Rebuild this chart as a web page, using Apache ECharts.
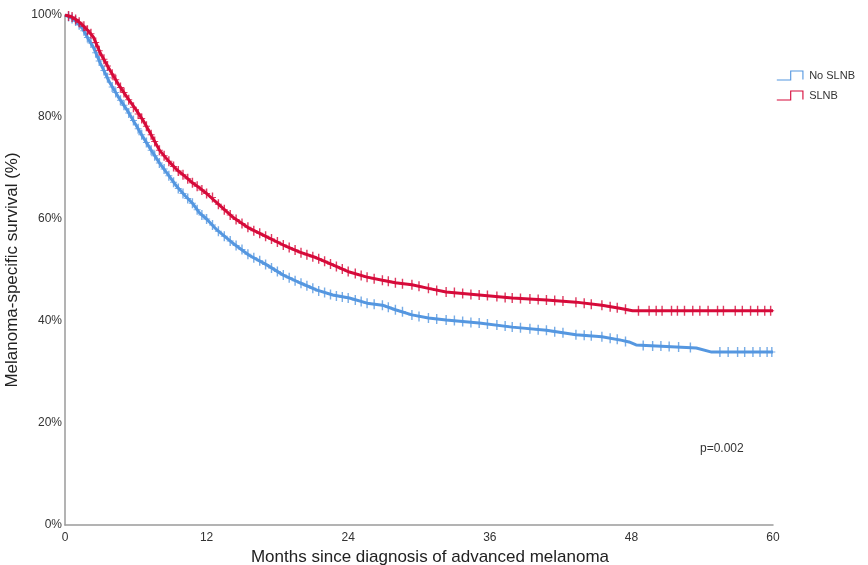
<!DOCTYPE html>
<html>
<head>
<meta charset="utf-8">
<script src="https://cdn.jsdelivr.net/npm/echarts@6/dist/echarts.min.js"></script>
<style>html,body{margin:0;padding:0;background:#fff}#c{width:868px;height:565px}</style>
</head>
<body>
<div id="c"></div>
<script>
const seriesNames = ['No SLNB', 'SLNB'];
const xTitle = 'Months since diagnosis of advanced melanoma';
const yTitle = 'Melanoma-specific survival (%)';
const pText = 'p=0.002';

const noSlnbCurve = [[0,100],[0.5,99.5],[1,98.6],[1.5,97.3],[2,95.2],[2.4,93.7],[3,90.5],[3.8,86.7],[4.5,84],[5.25,81.4],[6,78.5],[6.6,76.1],[7.3,73.5],[8,71],[8.8,68.5],[9.5,66.3],[10.2,64.5],[10.8,63.1],[11.4,61.2],[12,60],[12.9,57.8],[14.2,55.3],[15.6,52.9],[17.1,51],[18.5,49],[19.9,47.5],[21.3,46.1],[22.7,45.1],[24.1,44.5],[25.6,43.5],[26.9,43.1],[28,42.2],[29.4,41.2],[30.8,40.6],[32.3,40.2],[35.1,39.6],[37.9,38.8],[40.8,38.2],[43.3,37.3],[45.5,36.9],[47.2,36.2],[47.8,35.9],[48.4,35.3],[53.5,34.7],[54.8,33.9],[60,33.9]];

const slnbCurve = [[0,100],[0.5,99.7],[1,99],[1.5,98],[2,96.8],[2.4,95.7],[3,92.5],[3.8,89.2],[4.5,86.5],[5.25,83.9],[6,81.5],[6.6,79.4],[7.3,76.5],[8,73.5],[8.8,71.3],[9.5,69.6],[10.2,68.3],[10.8,67.1],[11.4,66.1],[12,65],[12.9,63.1],[14.2,60.4],[15.6,58.2],[17.1,56.5],[18.5,54.9],[19.9,53.5],[21.3,52.4],[22.7,51],[24.1,49.6],[25.6,48.6],[26.9,48],[28,47.5],[29.4,47.1],[30.8,46.4],[32.3,45.7],[35.1,45.1],[37.9,44.5],[40.8,44.1],[43.3,43.7],[45.5,43.1],[47,42.5],[48.1,42.0],[60,42.0]];

const noSlnbCensor = [[0.3,99.7],[0.6,99.3],[0.9,98.8],[1.2,98.1],[1.6,96.9],[1.9,95.6],[2.2,94.5],[2.6,92.6],[2.9,91.0],[3.3,89.1],[3.6,87.7],[4.0,85.9],[4.3,84.8],[4.7,83.3],[5.0,82.3],[5.4,80.8],[5.8,79.3],[6.2,77.7],[6.5,76.5],[6.9,75.0],[7.3,73.5],[7.6,72.4],[8.0,71.0],[8.4,69.8],[8.8,68.5],[9.2,67.2],[9.6,66.0],[10.0,65.0],[10.4,64.0],[10.8,63.1],[11.2,61.8],[11.6,60.8],[12.0,60.0],[12.5,58.8],[13,57.6],[13.5,56.6],[14,55.7],[14.5,54.8],[15,54.0],[15.5,53.1],[16,52.4],[16.5,51.8],[17,51.1],[17.5,50.4],[18,49.7],[18.5,49.0],[19,48.5],[19.5,47.9],[20,47.4],[20.5,46.9],[21,46.4],[21.5,45.9],[22,45.6],[22.5,45.2],[23,44.9],[23.5,44.7],[24,44.5],[24.6,44.1],[25.1,43.8],[25.6,43.5],[26.2,43.3],[26.9,43.1],[27.4,42.7],[28,42.2],[28.6,41.8],[29.4,41.2],[30.0,40.9],[30.8,40.6],[31.5,40.4],[32.3,40.2],[33,40.1],[33.7,39.9],[34.4,39.7],[35.1,39.6],[35.8,39.4],[36.6,39.2],[37.3,39.0],[37.9,38.8],[38.6,38.7],[39.4,38.5],[40.1,38.3],[40.8,38.2],[41.5,37.9],[42.2,37.7],[43.3,37.3],[44,37.2],[44.6,37.1],[45.5,36.9],[46.2,36.6],[46.8,36.4],[47.5,36.0],[49,35.2],[49.8,35.1],[50.5,35.1],[51.2,35.0],[52,34.9],[53,34.8],[55.5,33.9],[56.2,33.9],[57,33.9],[57.6,33.9],[58.3,33.9],[58.9,33.9],[59.5,33.9],[59.9,33.9]];

const slnbCensor = [[0.3,99.8],[0.6,99.6],[0.9,99.1],[1.2,98.6],[1.6,97.8],[1.9,97.0],[2.2,96.3],[2.6,94.6],[2.9,93.0],[3.3,91.3],[3.6,90.0],[4.0,88.4],[4.3,87.3],[4.7,85.8],[5.0,84.8],[5.4,83.4],[5.8,81.9],[6.2,80.6],[6.5,79.7],[6.9,78.2],[7.3,76.5],[7.6,75.2],[8.0,73.5],[8.4,72.4],[8.8,71.3],[9.2,70.3],[9.6,69.4],[10.0,68.7],[10.4,67.9],[10.8,67.1],[11.2,66.4],[11.6,65.7],[12.0,65.0],[12.5,64.2],[13,62.9],[13.5,61.8],[14,60.8],[14.5,59.9],[15,59.1],[15.5,58.4],[16,57.7],[16.5,57.2],[17,56.6],[17.5,56.1],[18,55.5],[18.5,54.9],[19,54.4],[19.5,53.9],[20,53.4],[20.5,53.0],[21,52.6],[21.5,52.2],[22,51.7],[22.5,51.2],[23,50.7],[23.5,50.2],[24,49.7],[24.6,49.3],[25.1,48.9],[25.6,48.6],[26.2,48.3],[26.9,48.0],[27.4,47.8],[28,47.5],[28.6,47.3],[29.4,47.1],[30,46.8],[30.8,46.4],[31.5,46.0],[32.3,45.7],[33,45.6],[33.7,45.4],[34.4,45.2],[35.1,45.1],[35.8,45.0],[36.6,44.8],[37.3,44.6],[37.9,44.5],[38.6,44.4],[39.4,44.3],[40.1,44.2],[40.8,44.1],[41.5,44.0],[42.2,43.9],[43.3,43.7],[44,43.5],[44.6,43.3],[45.5,43.1],[46.2,42.8],[46.8,42.6],[47.5,42.3],[48.6,42.0],[49.5,42.0],[50.1,42.0],[50.6,42.0],[51.4,42.0],[51.9,42.0],[52.5,42.0],[53.2,42.0],[53.8,42.0],[54.5,42.0],[55.3,42.0],[55.8,42.0],[56.8,42.0],[57.4,42.0],[58.1,42.0],[58.7,42.0],[59.3,42.0],[59.8,42.0]];

const colors = ['#5597e0', '#d60a3a'];
const plusPath = 'path://M2,0H3V10H2ZM0,4.5H5V5.5H0Z';
const stepIcon = 'path://M0,9H12V1H24V9H23V2H13V10H0Z';
const font = 'Liberation Sans';

const chart = echarts.init(document.getElementById('c'), null, {renderer: 'canvas'});
chart.setOption({
  animation: false,
  backgroundColor: '#fff',
  grid: {left: 65, right: 95, top: 15, bottom: 40, containLabel: false, outerBoundsMode: 'none'},
  legend: {
    right: 8, top: 65, orient: 'vertical', itemWidth: 28, itemHeight: 10, itemGap: 9,
    data: [{name: seriesNames[0], icon: stepIcon}, {name: seriesNames[1], icon: stepIcon}],
    textStyle: {fontFamily: font, fontSize: 11, color: '#333'}
  },
  xAxis: {
    type: 'value', min: 0, max: 60, interval: 12,
    name: xTitle, nameLocation: 'middle', nameGap: 20,
    nameTextStyle: {fontFamily: font, fontSize: 17, color: '#222', padding: [0, 0, 0, 22]},
    axisLine: {show: true, lineStyle: {color: '#9a9a9a', width: 1.5}},
    axisTick: {show: false}, splitLine: {show: false},
    axisLabel: {fontFamily: font, fontSize: 12, color: '#333', margin: 7}
  },
  yAxis: {
    type: 'value', min: 0, max: 100, interval: 20,
    name: yTitle, nameLocation: 'middle', nameGap: 36,
    nameTextStyle: {fontFamily: font, fontSize: 17, color: '#222'},
    axisLine: {show: true, lineStyle: {color: '#9a9a9a', width: 1.5}},
    axisTick: {show: false}, splitLine: {show: false},
    axisLabel: {fontFamily: font, fontSize: 12, color: '#333', margin: 3, formatter: '{value}%'}
  },
  graphic: [
    {type: 'text', left: 700, top: 443,
     style: {text: pText, font: '12px "Liberation Sans"', fill: '#333'}}
  ],
  series: [
    {name: seriesNames[0], type: 'line', data: noSlnbCurve, showSymbol: false, color: colors[0],
     lineStyle: {width: 3, color: colors[0]}, z: 2},
    {name: seriesNames[1], type: 'line', data: slnbCurve, showSymbol: false, color: colors[1],
     lineStyle: {width: 3, color: colors[1]}, z: 3},
    {name: 'No SLNB censored', type: 'scatter', data: noSlnbCensor, symbol: plusPath, symbolSize: [7, 10],
     itemStyle: {color: colors[0]}, z: 2},
    {name: 'SLNB censored', type: 'scatter', data: slnbCensor, symbol: plusPath, symbolSize: [7, 10],
     itemStyle: {color: colors[1]}, z: 3}
  ]
});
</script>
</body>
</html>
